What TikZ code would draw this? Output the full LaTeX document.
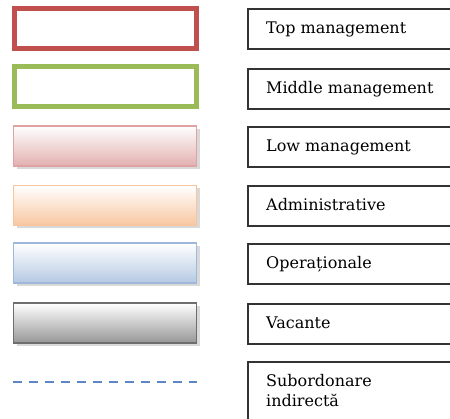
\documentclass[tikz,border=0pt]{standalone}
\usepackage{fontspec}
\setmainfont{DejaVu Serif}
\usetikzlibrary{shadows}
\definecolor{topred}{HTML}{C0504D}
\definecolor{midgreen}{HTML}{9BBB59}
\definecolor{lowline}{HTML}{E0A3A2}
\definecolor{lowfill}{HTML}{E2B0AF}
\definecolor{admline}{HTML}{F9C499}
\definecolor{admfill}{HTML}{F8C6A0}
\definecolor{opline}{HTML}{9DB8DA}
\definecolor{opfill}{HTML}{B5C9E2}
\definecolor{vacline}{HTML}{6E6E6E}
\definecolor{vacfill}{HTML}{969696}
\definecolor{subblue}{HTML}{5B87C5}
\definecolor{keyline}{HTML}{333333}
\begin{document}
\begin{tikzpicture}[x=1pt,y=-1pt]
%\draw[help lines] (0,0) grid (450,419);
\tikzstyle{swatch}=[minimum width=183pt,minimum height=40pt,inner sep=0pt]
\tikzstyle{framed}=[swatch,draw,line width=5pt,minimum width=182pt]
\tikzstyle{shaded}=[swatch,draw,line width=1.2pt,top color=white,
  drop shadow={shadow xshift=3pt,shadow yshift=-3pt,opacity=0.3}]
\tikzstyle{keybox}=[draw=keyline,line width=2pt,minimum width=230pt,
  minimum height=40pt,inner sep=0pt,anchor=north west]
\tikzstyle{keytext}=[anchor=base west,inner sep=0pt,font=\fontsize{16}{20}\selectfont,
  align=left]
\useasboundingbox (0,0) rectangle (450,419);
\clip (0,0) rectangle (450,419);

% colour swatches
\draw (105.5,28.5) node[framed,draw=topred] (top-sw) {};
\draw (105.5,86.5) node[framed,draw=midgreen] (mid-sw) {};
\draw (105,146) node[shaded,draw=lowline,bottom color=lowfill] (low-sw) {};
\draw (105,205.5) node[shaded,draw=admline,bottom color=admfill] (adm-sw) {};
\draw (105,263) node[shaded,draw=opline,bottom color=opfill] (op-sw) {};
\draw (105,323) node[shaded,draw=vacline,bottom color=vacfill] (vac-sw) {};
\coordinate (sub-a) at (13,382);
\coordinate (sub-b) at (197,382);
\draw[subblue,line width=2pt,dash pattern=on 9pt off 7pt] (sub-a) -- (sub-b);

% key boxes
\draw (247,8) node[keybox] (top-key) {};
\draw (247,68) node[keybox] (mid-key) {};
\draw (247,126) node[keybox] (low-key) {};
\draw (247,185) node[keybox] (adm-key) {};
\draw (247,243) node[keybox] (op-key) {};
\draw (247,303) node[keybox] (vac-key) {};
\draw (247,361) node[keybox,minimum height=70pt] (sub-key) {};

\draw (266,34) node[keytext] (top-txt) {Top management};
\draw (266,94) node[keytext] (mid-txt) {Middle management};
\draw (266,152) node[keytext] (low-txt) {Low management};
\draw (266,211) node[keytext] (adm-txt) {Administrative};
\draw (266,269) node[keytext] (op-txt) {Operaționale};
\draw (266,329) node[keytext] (vac-txt) {Vacante};
\draw (266,407) node[keytext] (sub-txt) {Subordonare\\indirectă};
\end{tikzpicture}
\end{document}
